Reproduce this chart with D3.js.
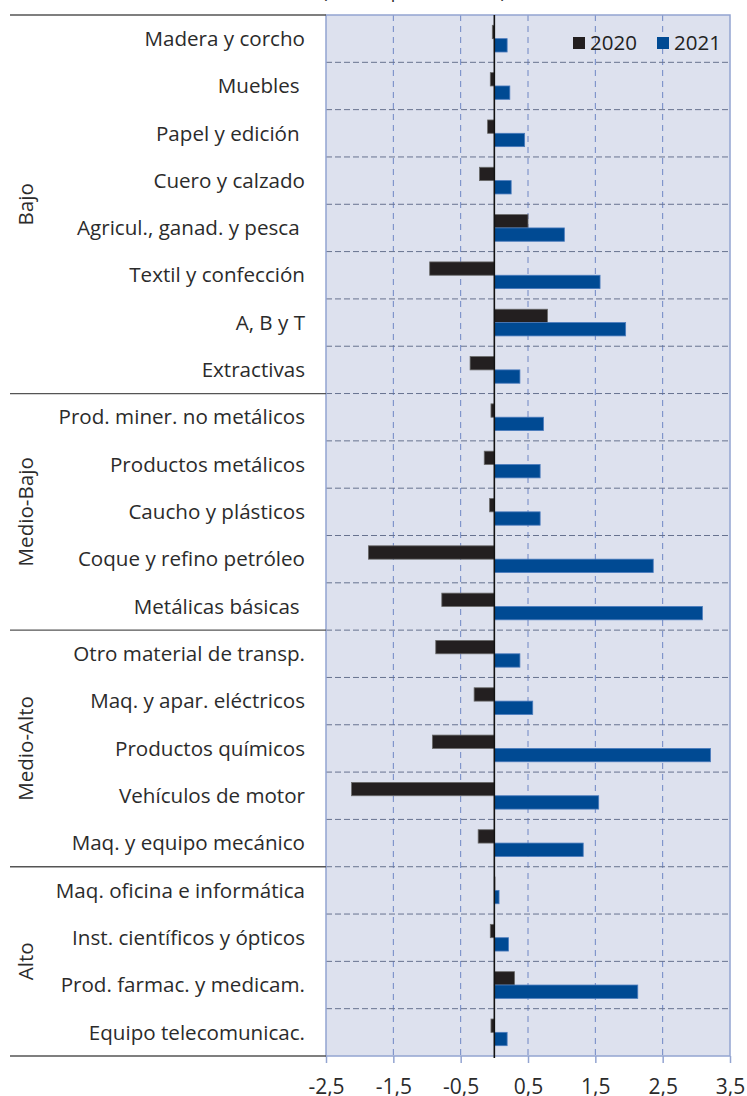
<!DOCTYPE html>
<html>
<head>
<meta charset="utf-8">
<script src="https://cdn.jsdelivr.net/npm/d3@7"></script>
<style>
  html, body { margin: 0; padding: 0; background: #ffffff; }
  svg { display: block; font-family: "Open Sans", "Noto Sans", sans-serif; }
  text { white-space: pre; }
</style>
</head>
<body>
<svg id="chart" width="747" height="1096"></svg>
<script>
// Sectors, grouped by technological intensity
const categories = [
  "Madera y corcho", "Muebles ", "Papel y edición ", "Cuero y calzado",
  "Agricul., ganad. y pesca ", "Textil y confección", "A, B y T", "Extractivas",
  "Prod. miner. no metálicos", "Productos metálicos", "Caucho y plásticos",
  "Coque y refino petróleo", "Metálicas básicas ",
  "Otro material de transp.", "Maq. y apar. eléctricos", "Productos químicos",
  "Vehículos de motor", "Maq. y equipo mecánico",
  "Maq. oficina e informática", "Inst. científicos y ópticos",
  "Prod. farmac. y medicam.", "Equipo telecomunicac."
];
const groupNames = ["Bajo", "Medio-Bajo", "Medio-Alto", "Alto"];
const groupSizes = [8, 5, 5, 4];

const seriesNames = ["2020", "2021"];
const values2020 = [
  -0.03, -0.06, -0.10, -0.22, 0.50, -0.96, 0.79, -0.36,
  -0.05, -0.15, -0.07, -1.87, -0.78,
  -0.87, -0.30, -0.92, -2.12, -0.24,
  0.01, -0.06, 0.30, -0.05
];
const values2021 = [
  0.19, 0.23, 0.45, 0.25, 1.04, 1.57, 1.95, 0.38,
  0.73, 0.68, 0.68, 2.36, 3.09,
  0.38, 0.57, 3.21, 1.55, 1.32,
  0.07, 0.21, 2.13, 0.19
];
const xTicks = [-2.5, -1.5, -0.5, 0.5, 1.5, 2.5, 3.5];
const xDomain = [-2.5, 3.5];
const subtitle = "(Puntos porcentuales)";

const seriesColors = { "2020": "#231f20", "2021": "#004a93" };
const seriesStroke = { "2020": "#6a6a6a", "2021": "#4a7bbd" };

const svg = d3.select("#chart");
const plot = { left: 326, right: 730, top: 15, bottom: 1056 };
const textColor = "#2b2b2b";

const locale = d3.formatLocale({ decimal: ",", thousands: ".", grouping: [3], currency: ["", " €"], minus: "-" });
const fmt = locale.format(".1f");

const x = d3.scaleLinear().domain(xDomain).range([plot.left, plot.right]);
const y = d3.scaleBand().domain(categories).range([plot.top, plot.bottom])
  .paddingInner(0.436).paddingOuter(0.218);
const step = y.step();
const ySub = d3.scaleBand().domain(seriesNames).range([0, y.bandwidth()]);

// Subtitle, mostly clipped at the top edge
svg.append("text")
  .attr("x", 414).attr("y", -2)
  .attr("text-anchor", "middle")
  .attr("font-size", 18).attr("fill", textColor)
  .text(subtitle);

// Plot background
svg.append("rect")
  .attr("x", plot.left).attr("y", plot.top)
  .attr("width", plot.right - plot.left).attr("height", plot.bottom - plot.top)
  .attr("fill", "#dde1ee");

// Vertical dashed gridlines
svg.append("g").selectAll("line")
  .data(xTicks.slice(1, -1))
  .join("line")
  .attr("x1", d => x(d)).attr("x2", d => x(d))
  .attr("y1", plot.top).attr("y2", plot.bottom)
  .attr("stroke", "#6f86c4").attr("stroke-width", 1)
  .attr("stroke-dasharray", "6,5");

// Horizontal dashed gridlines between categories
const bounds = d3.range(1, categories.length).map(i => plot.top + i * step);
svg.append("g").selectAll("line")
  .data(bounds)
  .join("line")
  .attr("x1", plot.left).attr("x2", plot.right)
  .attr("y1", d => d).attr("y2", d => d)
  .attr("stroke", "#67728f").attr("stroke-width", 1)
  .attr("stroke-dasharray", "6,3");

// Bars
const rows = categories.map((c, i) => ({ c, values: [
  { key: "2020", v: values2020[i] },
  { key: "2021", v: values2021[i] }
]}));

const rowG = svg.append("g").selectAll("g")
  .data(rows)
  .join("g")
  .attr("transform", d => `translate(0,${y(d.c)})`);

rowG.selectAll("rect")
  .data(d => d.values)
  .join("rect")
  .attr("x", d => x(Math.min(0, d.v)))
  .attr("width", d => Math.abs(x(d.v) - x(0)))
  .attr("y", d => ySub(d.key))
  .attr("height", ySub.bandwidth())
  .attr("fill", d => seriesColors[d.key])
  .attr("stroke", d => seriesStroke[d.key])
  .attr("stroke-width", 0.8);

// Plot frame
svg.append("rect")
  .attr("x", plot.left).attr("y", plot.top)
  .attr("width", plot.right - plot.left).attr("height", plot.bottom - plot.top)
  .attr("fill", "none")
  .attr("stroke", "#93a4d1").attr("stroke-width", 1.5);

// Zero line
svg.append("line")
  .attr("x1", x(0)).attr("x2", x(0))
  .attr("y1", plot.top).attr("y2", plot.bottom + 2)
  .attr("stroke", "#111").attr("stroke-width", 1.6);

// Bottom axis
const xAxis = d3.axisBottom(x).tickValues(xTicks).tickSize(7).tickPadding(16).tickFormat(fmt);
const axG = svg.append("g")
  .attr("transform", `translate(0,${plot.bottom})`)
  .call(xAxis);
axG.select(".domain").remove();
axG.selectAll(".tick line").attr("stroke", "#93a4d1").attr("stroke-width", 1.5);
axG.selectAll(".tick text")
  .attr("font-size", 21).attr("fill", textColor)
  .attr("font-family", "'Open Sans', 'Noto Sans', sans-serif");

// Category labels
svg.append("g").selectAll("text")
  .data(categories)
  .join("text")
  .attr("x", 305)
  .attr("y", d => y(d) + y.bandwidth() / 2)
  .attr("dy", "0.35em")
  .attr("text-anchor", "end")
  .attr("font-size", 20.6).attr("fill", textColor)
  .text(d => d);

// Group separators and rotated group names
const groupStarts = groupSizes.map((s, i) => d3.sum(groupSizes.slice(0, i)));
const sepIdx = [0, ...groupSizes.map((s, i) => d3.sum(groupSizes.slice(0, i + 1)))];
svg.append("g").selectAll("line")
  .data(sepIdx)
  .join("line")
  .attr("x1", 10).attr("x2", plot.left)
  .attr("y1", d => plot.top + d * step).attr("y2", d => plot.top + d * step)
  .attr("stroke", "#555").attr("stroke-width", 1.3);

svg.append("g").selectAll("text")
  .data(groupNames)
  .join("text")
  .attr("transform", (d, i) => {
    const cy = plot.top + (groupStarts[i] + groupSizes[i] / 2) * step;
    return `translate(33,${cy}) rotate(-90)`;
  })
  .attr("text-anchor", "middle")
  .attr("font-size", 20.6).attr("fill", textColor)
  .text(d => d);

// Legend
const legend = svg.append("g").selectAll("g")
  .data(seriesNames)
  .join("g")
  .attr("transform", (d, i) => `translate(${573 + i * 84},37)`);
legend.append("rect")
  .attr("width", 12).attr("height", 12)
  .attr("fill", d => seriesColors[d]);
legend.append("text")
  .attr("x", 17).attr("y", 13)
  .attr("font-size", 20.5).attr("fill", "#222")
  .text(d => d);
</script>
</body>
</html>
